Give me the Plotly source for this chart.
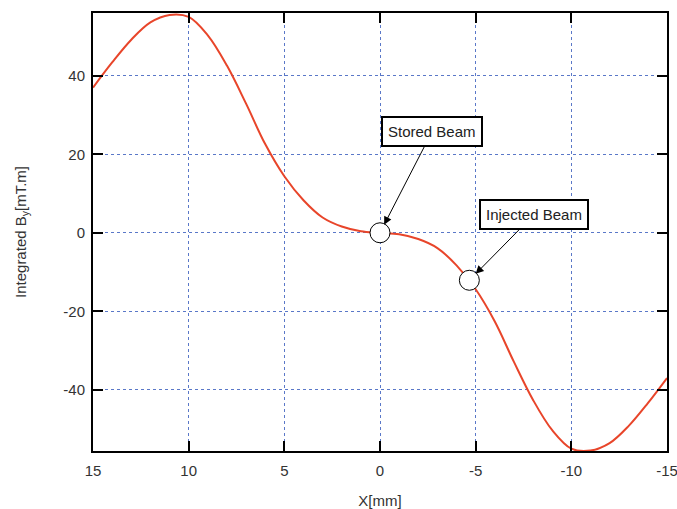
import plotly.graph_objects as go

# (values at 1 mm steps)
x_mm = [15, 14, 13, 12, 11, 10, 9, 8, 7, 6, 5, 4, 3, 2, 1, 0,
        -1, -2, -3, -4, -5, -6, -7, -8, -9, -10, -11, -12, -13, -14, -15]
by_int = [37.0, 43.4, 49.2, 53.6, 55.5, 55.0, 50.3, 42.6, 32.9, 22.6, 14.4, 8.3, 3.9, 1.6, 0.4, 0.0,
          -0.4, -1.6, -3.9, -8.3, -14.4, -22.6, -32.9, -42.6, -50.3, -55.0, -55.5, -53.6, -49.2, -43.4, -37.0]

beam_x = [0.0, -4.67]
beam_y = [0.0, -12.1]
beam_labels = ["Stored Beam", "Injected Beam"]
label_offsets = [(52, -101), (65, -66)]

x_ticks = [15, 10, 5, 0, -5, -10, -15]
x_ticktext = ["15", "10", "5", "0", "-5", "-10", "-15"]
y_ticks = [-40, -20, 0, 20, 40]
y_ticktext = ["-40", "-20", "0", "20", "40"]

FONT = "Liberation Sans, Arial, sans-serif"

fig = go.Figure()
fig.add_trace(go.Scatter(
    x=x_mm, y=by_int, mode="lines",
    line=dict(color="#e8452a", width=2, shape="spline", smoothing=1.0),
    hoverinfo="skip", showlegend=False))
fig.add_trace(go.Scatter(
    x=beam_x, y=beam_y, mode="markers",
    marker=dict(size=20, color="white", line=dict(color="black", width=1)),
    hoverinfo="skip", showlegend=False))

for bx, by, lab, (ax, ay) in zip(beam_x, beam_y, beam_labels, label_offsets):
    fig.add_annotation(
        x=bx, y=by, text=lab, showarrow=True, ax=ax, ay=ay,
        arrowhead=2, arrowsize=1.6, arrowwidth=1, arrowcolor="black",
        standoff=9, bgcolor="white", bordercolor="black", borderwidth=2,
        borderpad=5, font=dict(family=FONT, size=15, color="#222"))

axis_common = dict(
    showline=True, linewidth=2, linecolor="black", mirror="ticks",
    ticks="inside", ticklen=10, tickwidth=2, tickcolor="black",
    showgrid=True, gridcolor="#5a78c8", griddash="dot", gridwidth=1,
    zeroline=False, automargin=False, ticklabeloverflow="allow",
    tickfont=dict(family=FONT, size=15, color="#333"))

fig.update_xaxes(range=[15, -15], tickvals=x_ticks, ticktext=x_ticktext,
                 ticklabelstandoff=5,
                 title=dict(text="X[mm]", standoff=21,
                            font=dict(family=FONT, size=15, color="#333")),
                 **axis_common)
fig.update_yaxes(range=[-55.6, 56.0], tickvals=y_ticks, ticktext=y_ticktext,
                 ticklabelstandoff=3,
                 title=dict(text="Integrated B<sub>y</sub>[mT.m]", standoff=33,
                            font=dict(family=FONT, size=15, color="#333")),
                 **axis_common)

fig.update_layout(
    width=677, height=509,
    margin=dict(l=93, r=10, t=13, b=58),
    plot_bgcolor="white", paper_bgcolor="white",
    showlegend=False, hovermode=False)

fig.write_html(
    "out.html",
    config={"displayModeBar": False},
    post_script="document.body.style.margin='0px';document.body.style.overflow='hidden';")
